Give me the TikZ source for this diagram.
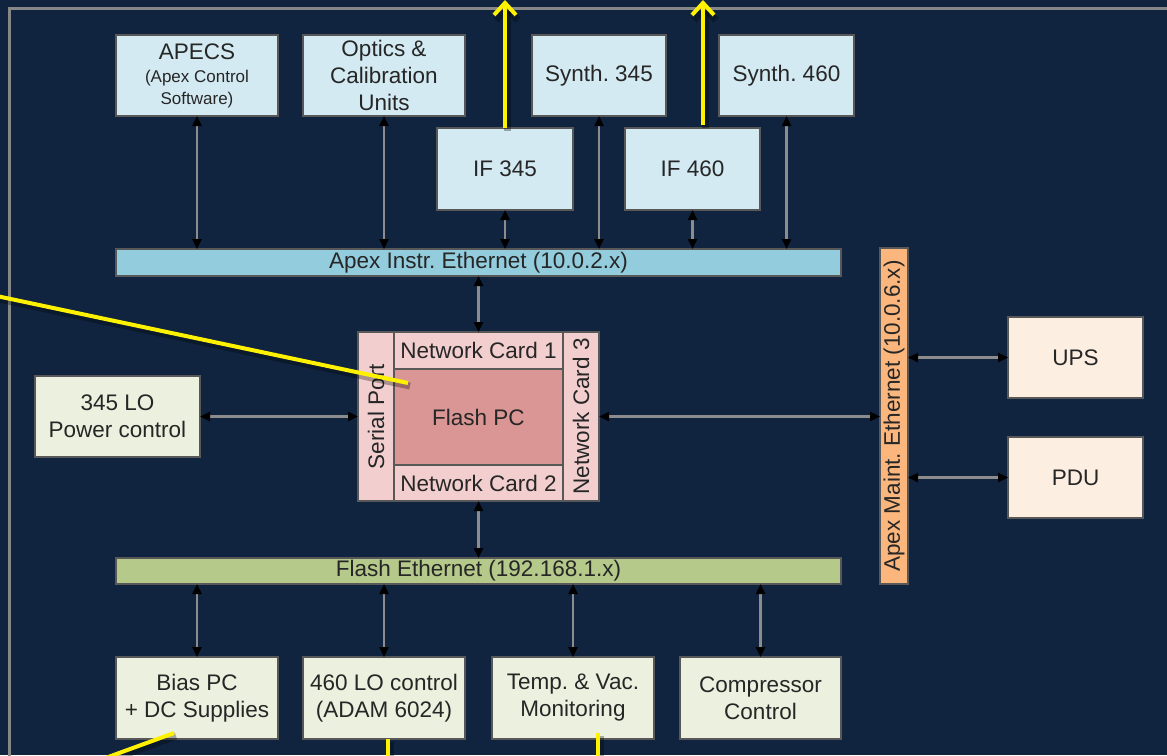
\documentclass[tikz,border=0pt]{standalone}
\usepackage{fontspec}
\setmainfont{Liberation Sans}
\usetikzlibrary{arrows.meta,calc}
\definecolor{bg}{RGB}{16,36,64}
\definecolor{framec}{RGB}{135,135,135}
\definecolor{bordc}{RGB}{88,88,88}
\definecolor{txt}{RGB}{38,38,38}
\definecolor{lblue}{RGB}{211,234,242}
\definecolor{instrc}{RGB}{147,205,221}
\definecolor{fethc}{RGB}{181,201,138}
\definecolor{maintc}{RGB}{250,182,125}
\definecolor{peach}{RGB}{253,238,226}
\definecolor{lgreen}{RGB}{235,241,222}
\definecolor{lpink}{RGB}{242,207,206}
\definecolor{dpink}{RGB}{218,150,148}
\definecolor{conn}{RGB}{140,140,140}
\newcommand{\smalltxt}{\fontsize{17}{21}\selectfont}
\frenchspacing
\tikzset{
  box/.style={draw=bordc, line width=1.3pt, inner sep=0pt, outer sep=0pt,
    text=txt, font=\fontsize{22.5}{27}\selectfont, align=center},
  sz/.style 2 args={minimum width=#1pt, minimum height=#2pt},
  bluebox/.style={box, fill=lblue},
  greenbox/.style={box, fill=lgreen},
  peachbox/.style={box, fill=peach},
  pinkbox/.style={box, fill=lpink},
  bi/.style={draw=conn, line width=2.4pt,
    arrows={Triangle[length=10pt,width=9pt,color=black,fill=black]-Triangle[length=10pt,width=9pt,color=black,fill=black]}},
  yl/.style={draw=yellow, line width=4pt,
    preaction={draw=black, opacity=0.3, line width=7pt, transform canvas={shift={(2pt,-3pt)}}}},
  ylarrow/.style={yl, -{Straight Barb[length=12pt,width=22pt]}}
}
\begin{document}
\begin{tikzpicture}[x=1pt,y=-1pt]
\useasboundingbox (0,0) rectangle (1167,755);
\fill[bg] (0,0) rectangle (1167,755);
% frame
\draw[framec, line width=3pt] (9,760) -- (9,8) -- (1172,8);

% top row
\node[bluebox, sz={162}{81}] (apecs) at (197,75.5)
  {APECS\\[-4pt]{\smalltxt (Apex Control}\\[-5pt]{\smalltxt Software)}};
\node[bluebox, sz={162}{81}] (optics) at (384,75.5) {Optics \&\\Calibration\\Units};
\node[bluebox, sz={134}{81}] (syn345) at (599,75.5) {Synth. 345};
\node[bluebox, sz={135}{81}] (syn460) at (786.5,75.5) {Synth. 460};
\node[bluebox, sz={136}{82}] (if345) at (505,169) {IF 345};
\node[bluebox, sz={135}{82}] (if460) at (692.5,169) {IF 460};

% ethernet bars
\node[box, fill=instrc, sz={725}{27}] (instr) at (478.5,262.5) {Apex Instr. Ethernet (10.0.2.x)};
\node[box, fill=fethc, sz={725}{26}] (feth) at (478.5,571) {Flash Ethernet (192.168.1.x)};
\node[box, fill=maintc, sz={336}{28}, rotate=90] (maint) at (894,416) {Apex Maint. Ethernet (10.0.6.x)};

% Flash PC
\node[pinkbox, sz={169}{36}, rotate=90] (serial) at (376,416.5) {Serial Port};
\node[pinkbox, sz={169}{36}, rotate=90] (nc3) at (581,416.5) {Network Card 3};
\node[pinkbox, sz={169}{37}] (nc1) at (478.5,350.5) {Network Card 1};
\node[box, fill=dpink, sz={169}{96}] (flash) at (478.5,417) {Flash PC};
\node[pinkbox, sz={169}{36}] (nc2) at (478.5,483) {Network Card 2};

% side boxes
\node[greenbox, sz={165}{81}] (lo345) at (117.5,416.5) {345 LO\\Power control};
\node[peachbox, sz={135}{81}] (ups) at (1075.5,357.5) {UPS};
\node[peachbox, sz={135}{81}] (pdu) at (1075.5,477.5) {PDU};

% bottom row
\node[greenbox, sz={162}{82}] (bias) at (197,698) {Bias PC\\+ DC Supplies};
\node[greenbox, sz={162}{82}] (lo460) at (384,698) {460 LO control\\(ADAM 6024)};
\node[greenbox, sz={162}{82}] (temp) at (573,698) {Temp. \& Vac.\\Monitoring};
\node[greenbox, sz={161}{82}] (comp) at (760.5,698) {Compressor\\Control};

% connectors
\draw[bi] (apecs.south) -- (apecs.south |- instr.north);
\draw[bi] (optics.south) -- (optics.south |- instr.north);
\draw[bi] (if345.south) -- (if345.south |- instr.north);
\draw[bi] (syn345.south) -- (syn345.south |- instr.north);
\draw[bi] (if460.south) -- (if460.south |- instr.north);
\draw[bi] (syn460.south) -- (syn460.south |- instr.north);
\draw[bi] (instr.south) -- (instr.south |- nc1.north);
\draw[bi] (nc2.south) -- (nc2.south |- feth.north);
\draw[bi] (lo345.east) -- (lo345.east -| serial.north);
\draw[bi] (nc3.south) -- (nc3.south -| maint.north);
\draw[bi] (maint.south |- ups.west) -- (ups.west);
\draw[bi] (maint.south |- pdu.west) -- (pdu.west);
\draw[bi] (feth.south -| bias.north) -- (bias.north);
\draw[bi] (feth.south -| lo460.north) -- (lo460.north);
\draw[bi] (feth.south -| temp.north) -- (temp.north);
\draw[bi] (feth.south -| comp.north) -- (comp.north);

% yellow pointers
\coordinate (t1) at (505,0);
\coordinate (t2) at (703,0);
\coordinate (l1) at (-2,296.3);
\coordinate (b1) at (100,760);
\coordinate (b2) at (388,760);
\coordinate (b3) at (598,760);
\draw[ylarrow] (if345.north) -- (t1);
\draw[ylarrow] ($(t2 |- if460.north)+(0,-3)$) -- (t2);
\draw[yl] (l1) -- ($(flash.north west)+(14,14)$);
\draw[yl] ($(bias.south)+(-23,-6)$) -- (b1);
\draw[yl] (b2 |- lo460.south) -- (b2);
\draw[yl] ($(b3 |- temp.south)+(0,-6)$) -- (b3);
\end{tikzpicture}
\end{document}
